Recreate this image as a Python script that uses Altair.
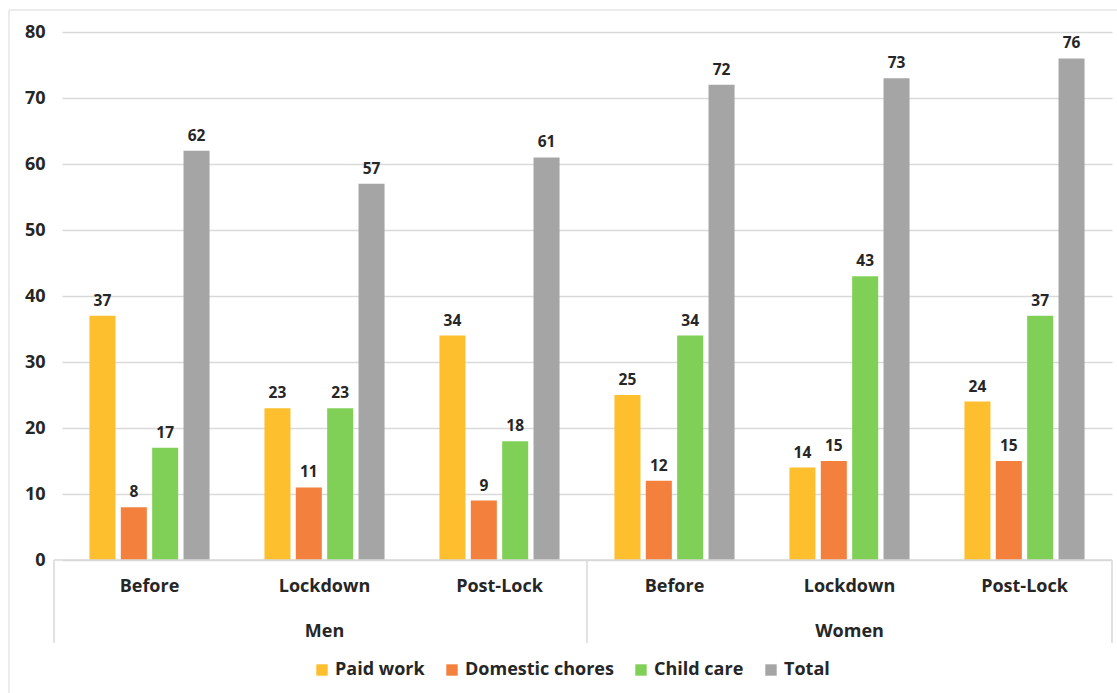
import altair as alt
import pandas as pd

# Hours per week by activity, split by gender and period
genders = ["Men", "Men", "Men", "Women", "Women", "Women"]
periods = ["Before", "Lockdown", "Post-Lock", "Before", "Lockdown", "Post-Lock"]
series = ["Paid work", "Domestic chores", "Child care", "Total"]
paid_work = [37, 23, 34, 25, 14, 24]
domestic_chores = [8, 11, 9, 12, 15, 15]
child_care = [17, 23, 18, 34, 43, 37]
total = [62, 57, 61, 72, 73, 76]
y_ticks = [0, 10, 20, 30, 40, 50, 60, 70, 80]
colors = ["#FDBF2D", "#F3803D", "#80D058", "#A5A5A5"]

values_by_series = [paid_work, domestic_chores, child_care, total]
keys = [f"{g}|{p}" for g, p in zip(genders, periods)]

rows = []
for s, vals in zip(series, values_by_series):
    for k, g, p, v in zip(keys, genders, periods, vals):
        rows.append({"key": k, "gender": g, "period": p, "series": s, "value": v})
df = pd.DataFrame(rows)

FONT = "Open Sans"
TEXT = "#262626"
LINE = "#D9D9D9"
W, H = 1050, 528

x_enc = alt.X(
    "key:N",
    sort=keys,
    scale=alt.Scale(paddingInner=0, paddingOuter=0),
    axis=alt.Axis(
        title=None, domain=False, ticks=False, grid=False,
        labelExpr="split(datum.label, '|')[1]",
        labelAngle=0, labelFont=FONT, labelFontWeight="bold",
        labelFontSize=18, labelColor=TEXT, labelPadding=17,
    ),
)
y_enc = alt.Y(
    "value:Q",
    scale=alt.Scale(domain=[0, 80], nice=False),
    axis=alt.Axis(
        title=None, values=y_ticks, domain=False, ticks=False,
        gridColor=LINE, gridWidth=1.5,
        labelFont=FONT, labelFontWeight="bold", labelFontSize=18,
        labelColor=TEXT, labelPadding=17,
    ),
)
xoff = alt.XOffset(
    "series:N", sort=series,
    scale=alt.Scale(paddingInner=0.17, paddingOuter=0.875),
)
color_enc = alt.Color(
    "series:N", sort=series,
    scale=alt.Scale(domain=series, range=colors),
    legend=alt.Legend(
        title=None, orient="none", direction="horizontal",
        legendX=251, legendY=629,
        symbolType="square", symbolSize=130, symbolStrokeWidth=0,
        labelFont=FONT, labelFontWeight="bold", labelFontSize=18,
        labelColor=TEXT, columnPadding=18, symbolOpacity=1,
    ),
)

base = alt.Chart(df)
bars = base.mark_bar().encode(x=x_enc, xOffset=xoff, y=y_enc, color=color_enc)
labels = base.mark_text(
    dy=-15, font=FONT, fontWeight="bold", fontSize=15.5, color=TEXT
).encode(x=alt.X("key:N", sort=keys), xOffset=xoff, y="value:Q", text="value:Q")

# Gender labels under the period labels
grp_df = pd.DataFrame({"key": ["Men|Lockdown", "Women|Lockdown"], "gender": ["Men", "Women"]})
group_labels = alt.Chart(grp_df).mark_text(
    font=FONT, fontWeight="bold", fontSize=18, color=TEXT, baseline="middle"
).encode(x=alt.X("key:N", sort=keys), y=alt.value(600), text="gender:N")

# Category axis line and separators
sep_df = pd.DataFrame({"px": [-8, W / 2, W]})
separators = alt.Chart(sep_df).mark_rule(color=LINE, strokeWidth=1.5).encode(
    x=alt.X("px:Q", scale=None), y=alt.value(H), y2=alt.value(611)
)
axis_line = alt.Chart(pd.DataFrame({"a": [0]})).mark_rule(color=LINE, strokeWidth=1.5).encode(
    x=alt.value(-8), x2=alt.value(W), y=alt.value(H)
)
# Outer frame (top and left edges)
frame_top = alt.Chart(pd.DataFrame({"a": [0]})).mark_rule(color="#E6E6E6", strokeWidth=1.5).encode(
    x=alt.value(-53), x2=alt.value(W + 10), y=alt.value(-22)
)
frame_left = alt.Chart(pd.DataFrame({"a": [0]})).mark_rule(color="#E6E6E6", strokeWidth=1.5).encode(
    x=alt.value(-53), y=alt.value(-22), y2=alt.value(H + 140)
)

chart = (
    alt.layer(frame_top, frame_left, bars, labels, group_labels, separators, axis_line)
    .resolve_scale(x="shared")
    .properties(
        width=W, height=H,
        padding={"left": 62, "top": 32, "right": 5, "bottom": 133},
        autosize=alt.AutoSizeParams(type="none"),
        background="white",
    )
    .configure_view(stroke=None)
)

chart.save("out.html", embed_options={"renderer": "svg", "actions": False})
